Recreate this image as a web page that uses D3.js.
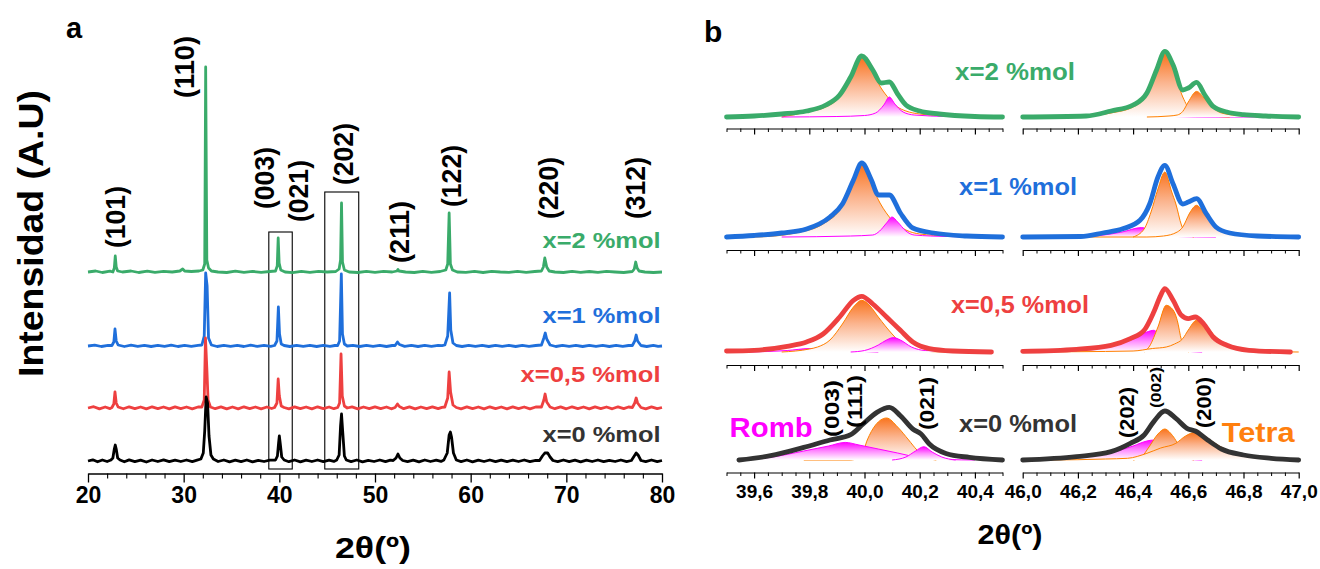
<!DOCTYPE html>
<html><head><meta charset="utf-8">
<script src="https://cdn.jsdelivr.net/npm/d3@7"></script>
<style>
body{margin:0;background:#fff}
svg text{font-family:"Liberation Sans",Arial,sans-serif;font-weight:bold}
</style>
</head><body>
<svg id="c" width="1320" height="569"></svg>
<script>
// ================= DATA =================
// Panel a: XRD patterns [2θ, intensity above own baseline]
const seriesNames = ["x=0 %mol","x=0,5 %mol","x=1 %mol","x=2 %mol"];
const seriesColors = ["#000000","#ee4040","#1f6fdb","#3aab6a"];
const labelColors = ["#333333","#ee4040","#1f6fdb","#3aab6a"];
const seriesOffsets = [0, 53, 115, 189];

const traceBlack = [[20.0,0],[20.5,1.2],[21.0,-0.8],[21.5,1],[22.0,-0.5],[22.4,1],[22.6,3],[22.75,12],[22.85,16],[22.95,12],[23.1,3],[23.35,1],[23.8,-0.8],[24.3,1.1],[24.9,-0.6],[25.5,0.9],[26.1,-1],[26.7,1],[27.3,-0.5],[27.9,1.2],[28.5,-0.7],[29.1,0.8],[29.7,-0.5],[30.3,1],[30.9,-0.6],[31.4,0.9],[31.8,2],[32.05,8],[32.2,30],[32.35,64],[32.5,58],[32.65,25],[32.85,6],[33.1,2],[33.6,-0.5],[34.2,1],[34.8,-0.8],[35.4,0.8],[36.0,-0.6],[36.6,1],[37.2,-0.9],[37.8,0.7],[38.4,-0.5],[39.0,0.9],[39.6,1],[39.8,5],[39.92,18],[40.0,25],[40.1,17],[40.25,4],[40.5,1],[41.0,-0.7],[41.6,1],[42.2,-0.8],[42.8,0.9],[43.4,-0.5],[44.0,1],[44.6,-0.7],[45.2,0.8],[45.7,-0.4],[46.0,1],[46.25,6],[46.4,35],[46.5,47],[46.62,30],[46.8,5],[47.0,1],[47.5,-0.6],[48.1,1],[48.7,-0.8],[49.3,0.7],[49.9,-0.5],[50.5,1],[51.1,-0.7],[51.6,0.8],[51.9,0.5],[52.2,3],[52.4,7],[52.6,3],[52.9,0.5],[53.4,-0.6],[54.0,0.9],[54.6,-0.8],[55.2,1],[55.8,-0.5],[56.4,0.8],[56.9,-0.4],[57.2,1],[57.55,8],[57.75,26],[57.88,29],[58.0,24],[58.2,8],[58.5,1],[59.0,-0.6],[59.6,1],[60.2,-0.8],[60.8,0.8],[61.4,-0.5],[62.0,1],[62.6,-0.7],[63.2,0.9],[63.8,-0.6],[64.4,0.8],[65.0,-0.5],[65.6,1],[66.2,-0.7],[66.8,0.6],[67.2,0.5],[67.5,5],[67.75,8],[68.05,8],[68.3,4],[68.6,0.5],[69.1,-0.7],[69.7,1],[70.3,-0.6],[70.9,0.8],[71.5,-0.8],[72.1,0.9],[72.7,-0.5],[73.3,1],[73.9,-0.7],[74.5,0.7],[75.1,-0.5],[75.7,1],[76.3,-0.6],[76.8,0.5],[77.1,5],[77.3,8],[77.5,6],[77.8,0.5],[78.3,-0.7],[78.9,1],[79.5,-0.6],[80.0,0.5]];

const traceRed = [[20.0,0],[20.6,1.3],[21.2,-0.9],[21.8,1],[22.3,-0.6],[22.5,0.5],[22.7,4],[22.82,16],[22.95,5],[23.15,1],[23.7,-0.8],[24.3,1.2],[24.9,-0.7],[25.5,1],[26.1,-0.9],[26.7,1.2],[27.3,-0.6],[27.9,1],[28.5,-0.9],[29.1,1.1],[29.7,-0.6],[30.3,1],[30.9,-0.8],[31.5,1],[31.9,1],[32.15,8],[32.28,70],[32.42,40],[32.55,8],[32.8,1],[33.3,-0.7],[33.9,1.1],[34.5,-0.8],[35.1,1],[35.7,-0.9],[36.3,1.2],[36.9,-0.6],[37.5,1],[38.1,-0.8],[38.7,1],[39.2,-0.5],[39.5,0.5],[39.75,5],[39.88,29],[40.0,12],[40.2,2],[40.5,0.5],[41.0,-0.8],[41.6,1.1],[42.2,-0.7],[42.8,1],[43.4,-0.9],[44.0,1.2],[44.6,-0.6],[45.2,1],[45.7,-0.7],[46.1,0.5],[46.3,5],[46.45,54],[46.58,12],[46.8,2],[47.1,0],[47.6,1.1],[48.2,-0.8],[48.8,1],[49.4,-0.7],[50.0,1.2],[50.6,-0.6],[51.2,1],[51.7,-0.8],[52.1,0.5],[52.35,4],[52.55,1.5],[53.0,-0.7],[53.6,1.1],[54.2,-0.9],[54.8,1],[55.4,-0.6],[56.0,1.2],[56.6,-0.7],[57.0,0.6],[57.3,1],[57.6,10],[57.75,36],[57.9,16],[58.15,3],[58.5,0.5],[59.0,-0.8],[59.6,1.1],[60.2,-0.7],[60.8,1],[61.4,-0.9],[62.0,1.2],[62.6,-0.6],[63.2,1],[63.8,-0.8],[64.4,1.1],[65.0,-0.6],[65.6,1],[66.2,-0.9],[66.8,1],[67.4,1],[67.65,8],[67.78,14],[67.95,6],[68.3,1],[68.8,-0.7],[69.4,1.1],[70.0,-0.8],[70.6,1.2],[71.2,-0.6],[71.8,1],[72.4,-0.9],[73.0,1.1],[73.6,-0.6],[74.2,1],[74.8,-0.8],[75.4,1.2],[76.0,-0.6],[76.5,1],[76.9,0.5],[77.15,5],[77.3,10],[77.45,5],[77.8,0.5],[78.3,-0.8],[78.9,1.1],[79.5,-0.7],[80.0,0.5]];

const traceBlue = [[20.0,0],[20.7,0.8],[21.4,-0.5],[22.1,0.7],[22.5,0.5],[22.7,4],[22.82,17],[22.95,5],[23.15,1],[23.8,-0.5],[24.5,0.8],[25.2,-0.4],[25.9,0.7],[26.6,-0.5],[27.3,0.6],[28.0,-0.4],[28.7,0.8],[29.4,-0.5],[30.1,0.6],[30.8,-0.3],[31.5,0.7],[31.9,1],[32.15,10],[32.3,73],[32.45,60],[32.6,8],[32.9,1],[33.5,-0.5],[34.2,0.7],[34.9,-0.4],[35.6,0.6],[36.3,-0.5],[37.0,0.8],[37.7,-0.4],[38.4,0.6],[39.1,-0.3],[39.5,0.5],[39.75,5],[39.9,39],[40.02,12],[40.2,2],[40.5,0.5],[41.1,-0.5],[41.8,0.7],[42.5,-0.4],[43.2,0.6],[43.9,-0.5],[44.6,0.7],[45.3,-0.3],[45.8,0.5],[46.1,0.5],[46.3,5],[46.48,72],[46.6,12],[46.8,2],[47.1,0],[47.7,0.7],[48.4,-0.5],[49.1,0.6],[49.8,-0.4],[50.5,0.7],[51.2,-0.5],[51.8,0.5],[52.1,0.5],[52.35,4],[52.55,1.5],[53.1,-0.4],[53.8,0.7],[54.5,-0.5],[55.2,0.6],[55.9,-0.4],[56.6,0.7],[57.0,0.3],[57.3,1],[57.6,10],[57.8,53],[57.92,16],[58.15,3],[58.5,0.5],[59.1,-0.5],[59.8,0.7],[60.5,-0.4],[61.2,0.6],[61.9,-0.5],[62.6,0.7],[63.3,-0.3],[64.0,0.6],[64.7,-0.5],[65.4,0.7],[66.1,-0.4],[66.8,0.5],[67.4,1],[67.65,8],[67.8,13],[67.95,7],[68.3,1],[68.9,-0.5],[69.6,0.7],[70.3,-0.4],[71.0,0.6],[71.7,-0.5],[72.4,0.7],[73.1,-0.3],[73.8,0.6],[74.5,-0.5],[75.2,0.7],[75.9,-0.4],[76.5,0.5],[76.9,0.5],[77.15,5],[77.3,11],[77.45,5],[77.8,0.5],[78.4,-0.5],[79.1,0.7],[79.6,-0.4],[80.0,0]];

const traceGreen = [[20.0,0],[20.8,1],[21.5,-0.5],[22.3,0.8],[22.6,0],[22.75,4],[22.85,16],[22.95,5],[23.1,1],[23.6,0],[24.5,1],[25.3,-0.5],[26.2,0.8],[27.0,-0.3],[27.9,0.6],[28.8,0],[29.6,1],[29.9,3],[30.1,1],[30.8,0.5],[31.6,1],[32.0,2],[32.2,8],[32.3,205],[32.42,12],[32.6,4],[32.9,1],[33.6,0],[34.5,-0.5],[35.4,0.8],[36.3,-0.4],[37.2,0.6],[38.1,-0.3],[39.0,0.5],[39.6,1],[39.78,6],[39.88,34],[39.98,9],[40.15,2],[40.6,0],[41.4,-0.6],[42.3,0.7],[43.2,-0.4],[44.1,0.6],[45.0,0],[45.9,0.5],[46.25,3],[46.4,12],[46.5,69],[46.6,10],[46.8,2],[47.3,0],[48.2,-0.5],[49.1,0.6],[50.0,-0.3],[50.9,0.7],[51.8,0],[52.3,1],[52.4,2.5],[52.5,1],[53.2,0],[54.1,-0.5],[55.0,0.6],[55.9,-0.3],[56.8,0.5],[57.4,2],[57.6,8],[57.75,59],[57.88,8],[58.1,2],[58.6,0],[59.5,-0.4],[60.4,0.7],[61.3,-0.5],[62.2,0.6],[63.1,0],[64.0,-0.4],[64.9,0.6],[65.8,-0.3],[66.7,0.5],[67.4,1],[67.6,5],[67.75,14],[67.95,5],[68.2,1],[68.8,0],[69.7,-0.5],[70.6,0.6],[71.5,-0.4],[72.4,0.5],[73.3,-0.3],[74.2,0.6],[75.1,0],[76.0,-0.5],[76.9,0.5],[77.1,3],[77.25,10],[77.4,4],[77.6,1],[78.2,0],[79.1,-0.5],[80.0,0]];

// Panel a: Miller index labels (2θ position, label height in intensity units)
const peakLabels = ["(101)","(110)","(003)","(021)","(202)","(211)","(122)","(220)","(312)"];
const peakLabelX = [22.93,30.06,38.44,42.0,46.72,52.58,58.03,68.19,77.2];
const peakLabelY = [244,394,283,270,307,229,285,273,273];
// Panel a: zoom boxes [2θ from, 2θ to, top intensity]
const boxFrom = [38.9,44.75];
const boxTo = [41.35,48.3];
const boxTop = [229,269];
const boxBottom = -8;
// Panel a axis ticks
const ticksA = [20,30,40,50,60,70,80];
const minorA = [22,24,26,28,32,34,36,38,42,44,46,48,52,54,56,58,62,64,66,68,72,74,76,78];

// Panel b: fitted profiles [2θ, intensity above baseline]
// green (x=2)
const gL_total = [[39.50,0],[39.60,1],[39.70,3],[39.79,6],[39.86,12],[39.91,22],[39.95,40],[39.99,61],[40.03,47],[40.06,34],[40.09,35],[40.12,23],[40.15,12],[40.20,6],[40.27,3],[40.40,0.5],[40.50,0]];
const gL_or = [[39.70,0],[39.75,2.5],[39.79,5],[39.86,10],[39.91,20],[39.95,38],[39.99,59],[40.03,44],[40.06,29],[40.09,18],[40.12,10],[40.15,6],[40.20,3],[40.30,1],[40.40,0]];
const gL_pk = [[39.70,0],[39.90,0.5],[40.00,1.5],[40.04,4],[40.07,12],[40.09,20],[40.11,13],[40.14,5],[40.18,2],[40.30,0.5],[40.45,0]];
const gR_total = [[46.00,0],[46.23,1],[46.32,6],[46.40,12],[46.45,24],[46.485,47],[46.515,65.6],[46.545,52],[46.58,27],[46.60,29],[46.63,34.6],[46.66,22],[46.69,10.6],[46.74,5],[46.80,2.3],[46.88,1],[47.00,0]];
const gR_pk = [[46.00,0],[46.15,0.3],[46.28,1.5],[46.38,3],[46.45,2],[46.55,0.5],[46.70,0],[47.00,0]];
const gR_or1 = [[46.20,0],[46.32,4],[46.40,10],[46.45,22],[46.485,45],[46.515,63],[46.545,48],[46.58,20],[46.61,6],[46.65,2],[46.75,0]];
const gR_or2 = [[46.45,0],[46.53,1],[46.56,2],[46.58,5.6],[46.60,15],[46.63,25.6],[46.66,18],[46.69,9],[46.72,4],[46.80,1],[46.90,0]];
// blue (x=1)
const bL_total = [[39.50,0],[39.60,1.5],[39.70,4],[39.79,8],[39.875,20],[39.92,33],[39.96,57],[39.99,74],[40.025,57],[40.05,42],[40.09,42],[40.13,24],[40.175,9],[40.25,4],[40.37,1],[40.50,0]];
const bL_or = [[39.60,0],[39.65,0.5],[39.75,4],[39.85,13],[39.92,31],[39.96,55],[39.99,72],[40.02,56],[40.045,40],[40.09,20],[40.15,7],[40.20,3],[40.30,1],[40.40,0]];
const bL_pk = [[39.70,0],[39.95,1],[40.03,2],[40.055,6],[40.08,14],[40.10,20],[40.12,15],[40.15,6],[40.18,2],[40.30,0.5],[40.45,0]];
const bR_total = [[46.00,0],[46.21,0.5],[46.29,4],[46.365,8.4],[46.425,16.7],[46.46,33],[46.49,60],[46.515,71.7],[46.545,53],[46.58,33],[46.60,35],[46.63,38.3],[46.665,23.3],[46.70,10],[46.75,4],[46.85,1],[47.00,0]];
const bR_pk = [[46.20,0],[46.28,1.5],[46.36,5],[46.43,9.4],[46.47,6],[46.51,2],[46.56,0.5],[46.70,0]];
const bR_or1 = [[46.40,0],[46.44,8],[46.465,25],[46.49,48],[46.515,65],[46.54,45],[46.555,33],[46.575,12],[46.59,4],[46.62,0]];
const bR_or2 = [[46.00,0],[46.45,0],[46.51,1],[46.56,5],[46.58,10],[46.605,24],[46.63,31.7],[46.66,22],[46.69,13],[46.74,5],[46.80,2],[46.90,0],[47.00,0]];
// red (x=0,5)
const rL_total = [[39.50,1],[39.60,1.7],[39.72,5.7],[39.79,10],[39.85,18],[39.91,35],[39.96,51.7],[39.99,55.7],[40.03,48],[40.08,35],[40.13,21.7],[40.175,10],[40.235,3.4],[40.32,1],[40.46,0]];
const rL_or = [[39.70,0],[39.80,3],[39.83,5],[39.875,12],[39.92,28],[39.96,45],[39.99,51.7],[40.02,46],[40.05,35],[40.10,18],[40.15,5],[40.20,1],[40.30,0]];
const rL_pk1 = [[39.55,0],[39.65,0.5],[39.72,1.5],[39.80,3.4],[39.88,3],[39.95,1.5],[40.00,0.5],[40.05,0]];
const rL_pk2 = [[39.95,0],[40.00,1.5],[40.05,7],[40.08,12],[40.105,14.4],[40.13,12],[40.17,5],[40.22,1.5],[40.35,0.5],[40.45,0]];
const rR_total = [[46.00,0.7],[46.195,2.7],[46.32,6.7],[46.39,13.4],[46.44,21.7],[46.475,40],[46.50,56.7],[46.515,63.4],[46.545,51.7],[46.575,36.7],[46.60,33.4],[46.625,35],[46.655,28.4],[46.69,15],[46.74,6.7],[46.82,1.7],[46.97,0]];
const rR_pk = [[46.05,0],[46.15,2],[46.25,4],[46.33,7],[46.40,13],[46.45,20],[46.475,21.7],[46.50,15],[46.53,6],[46.57,1.5],[46.65,0]];
const rR_or1 = [[46.44,0],[46.46,6],[46.49,25],[46.52,46.7],[46.545,42],[46.56,31.7],[46.575,12],[46.585,5],[46.60,0]];
const rR_or2 = [[46.00,0],[46.20,0.3],[46.40,1],[46.47,3.5],[46.52,5],[46.55,8],[46.58,13.4],[46.60,22],[46.63,31.7],[46.66,28],[46.69,18],[46.74,6.7],[46.80,2],[46.90,0.5],[47.00,0]];
// black (x=0)
const kL_total = [[39.545,0],[39.66,4.3],[39.78,12.6],[39.875,20],[39.95,25.3],[39.995,36],[40.045,47.6],[40.09,52.6],[40.13,44.3],[40.175,31],[40.205,26],[40.235,16],[40.295,6.6],[40.38,2.6],[40.50,0]];
const kL_or = [[39.78,0],[39.95,0],[39.99,5],[40.01,20],[40.04,35],[40.08,42],[40.12,33],[40.16,20],[40.19,10],[40.22,3],[40.26,0]];
const kL_pk1 = [[39.55,0],[39.66,2.7],[39.78,9],[39.87,14],[39.93,17.6],[39.98,15],[40.05,11],[40.12,7],[40.16,4.5],[40.22,2],[40.30,0.5],[40.40,0]];
const kL_pk2 = [[40.10,0],[40.15,3],[40.185,9],[40.215,13.3],[40.245,8],[40.28,3],[40.33,0]];
const kR_total = [[46.00,0],[46.195,3.4],[46.32,8.4],[46.39,16.7],[46.44,25],[46.475,38.4],[46.515,49],[46.555,41.7],[46.595,31.7],[46.625,29],[46.67,20],[46.72,11],[46.80,5],[46.90,1.7],[47.00,0]];
const kR_pk = [[46.05,0],[46.15,2],[46.25,4.5],[46.33,8],[46.40,14],[46.45,19],[46.475,20],[46.50,14],[46.53,6],[46.57,1.5],[46.65,0]];
const kR_or1 = [[46.40,0],[46.43,3],[46.46,14],[46.49,26],[46.515,31],[46.535,27],[46.55,21.7],[46.57,12],[46.59,4],[46.62,0]];
const kR_or2 = [[46.00,0],[46.10,0],[46.30,1],[46.38,1.7],[46.45,6.7],[46.50,12],[46.555,16.7],[46.59,24],[46.625,27.7],[46.66,24],[46.68,20],[46.74,10],[46.82,3.4],[46.90,1],[47.00,0]];

// Panel b texts
const bPeakLabels = ["(003)","(111)","(021)","(202)","(002)","(200)"];
const ticksBL = [39.6,39.8,40.0,40.2,40.4];
const ticksBR = [46.0,46.2,46.4,46.6,46.8,47.0];

// ================= DRAWING =================
const svg = d3.select("#c");
const FONT = '"Liberation Sans", Arial, sans-serif';
const defs = svg.append("defs");
const gOr = defs.append("linearGradient").attr("id","gOr").attr("x1",0).attr("y1",0).attr("x2",0).attr("y2",1);
gOr.append("stop").attr("offset","0%").attr("stop-color","#f9741f");
gOr.append("stop").attr("offset","45%").attr("stop-color","#fbb48e");
gOr.append("stop").attr("offset","100%").attr("stop-color","#ffffff");
const gPk = defs.append("linearGradient").attr("id","gPk").attr("x1",0).attr("y1",0).attr("x2",0).attr("y2",1);
gPk.append("stop").attr("offset","0%").attr("stop-color","#ff00ff");
gPk.append("stop").attr("offset","50%").attr("stop-color","#ff8cff");
gPk.append("stop").attr("offset","100%").attr("stop-color","#ffffff");

function txt(g, s, x, y, opt) {
  const t = g.append("text").attr("x", x).attr("y", y).text(s)
    .attr("font-family", FONT).attr("font-weight","bold")
    .attr("font-size", opt.size).attr("fill", opt.fill || "#000")
    .attr("text-anchor", opt.anchor || "start");
  if (opt.len) t.attr("textLength", opt.len).attr("lengthAdjust","spacingAndGlyphs");
  if (opt.rot) t.attr("transform", `rotate(-90,${x},${y})`).attr("dy","0.35em");
  return t;
}

// ---------- Panel a ----------
const xA = d3.scaleLinear().domain([20,80]).range([88,662]);
const yA = d3.scaleLinear().domain([0,400]).range([461,61]);
const gA = svg.append("g");

// boxes
boxFrom.forEach((b,i) => {
  gA.append("rect").attr("x", xA(b)).attr("y", yA(boxTop[i]))
    .attr("width", xA(boxTo[i]) - xA(b)).attr("height", yA(boxBottom) - yA(boxTop[i]))
    .attr("fill","none").attr("stroke","#000").attr("stroke-width",1.1);
});

const traces = [traceBlack, traceRed, traceBlue, traceGreen];
const drawOrder = [2, 3, 1, 0];
drawOrder.forEach(i => {
  const off = seriesOffsets[i];
  const line = d3.line().x(d => xA(d[0])).y(d => yA(d[1] + off));
  gA.append("path").datum(traces[i]).attr("d", line)
    .attr("fill","none").attr("stroke", seriesColors[i])
    .attr("stroke-width", 2.8).attr("stroke-linejoin","round");
});

// axis
const axA = gA.append("g").attr("transform","translate(0,473.5)")
  .call(d3.axisBottom(xA).tickValues(ticksA).tickSize(9).tickSizeOuter(0).tickPadding(4));
axA.select(".domain").attr("stroke-width",1.3);
axA.selectAll(".tick line").attr("stroke-width",1.3);
axA.selectAll("text").attr("font-size",23).attr("font-family",FONT).attr("font-weight","bold").attr("fill","#000");
const axAm = gA.append("g").attr("transform","translate(0,473.5)")
  .call(d3.axisBottom(xA).tickValues(minorA).tickSize(5).tickFormat(""));
axAm.select(".domain").remove();
axAm.selectAll(".tick line").attr("stroke-width",1.1);

// peak labels
peakLabels.forEach((s,i) => txt(gA, s, xA(peakLabelX[i]), yA(peakLabelY[i]), {size:27, anchor:"middle", rot:true, len:62}));

// series labels
const sLabelY = [442, 381.5, 322.7, 248];
const sLabelLen = [118, 140, 118, 118];
seriesNames.forEach((s,i) => txt(gA, s, 660.5, sLabelY[i], {size:22, anchor:"end", fill:labelColors[i], len:sLabelLen[i]}));

txt(gA, "a", 66, 38, {size:29});
txt(gA, "2θ(º)", 373, 558, {size:30, anchor:"middle", len:76});
txt(gA, "Intensidad (A.U)", 31, 233.5, {size:35, anchor:"middle", rot:true, len:287});

// ---------- Panel b ----------
const gB = svg.append("g");
const colL = d3.scaleLinear().domain([39.5,40.5]).range([726.5,1002.5]);
const colR = d3.scaleLinear().domain([46,47]).range([1022.7,1298.7]);
const rowBase = [117,237,352,460];
const rowAxis = [128.5,250,365,472.5];
const bColors = ["#3aab6a","#1f6fdb","#ee4040","#333333"];
const subplots = [
  {row:0, x:colL, total:gL_total, comps:[["o",gL_or],["p",gL_pk]]},
  {row:0, x:colR, total:gR_total, comps:[["p",gR_pk],["o",gR_or1],["o",gR_or2]]},
  {row:1, x:colL, total:bL_total, comps:[["o",bL_or],["p",bL_pk]]},
  {row:1, x:colR, total:bR_total, comps:[["p",bR_pk],["o",bR_or1],["o",bR_or2]]},
  {row:2, x:colL, total:rL_total, comps:[["p",rL_pk1],["o",rL_or],["p",rL_pk2]]},
  {row:2, x:colR, total:rR_total, comps:[["p",rR_pk],["o",rR_or1],["o",rR_or2]]},
  {row:3, x:colL, total:kL_total, comps:[["o",kL_or],["p",kL_pk1],["p",kL_pk2]]},
  {row:3, x:colR, total:kR_total, comps:[["p",kR_pk],["o",kR_or1],["o",kR_or2]]}
];
const fmtC = d => d3.format(".1f")(d).replace(".", ",");

subplots.forEach(sp => {
  const base = rowBase[sp.row];
  const y = d3.scaleLinear().domain([0,100]).range([base, base - 100]);
  const x = sp.x;
  const area = d3.area().x(d => x(d[0])).y0(y(0)).y1(d => y(d[1])).curve(d3.curveMonotoneX);
  const line = d3.line().x(d => x(d[0])).y(d => y(d[1])).curve(d3.curveMonotoneX);
  sp.comps.forEach(([k, data]) => {
    gB.append("path").datum(data).attr("d", area).attr("fill", k === "o" ? "url(#gOr)" : "url(#gPk)");
    gB.append("path").datum(data).attr("d", line).attr("fill","none")
      .attr("stroke", k === "o" ? "#ff8000" : "#ff00ff").attr("stroke-width", 1);
  });
  gB.append("path").datum(sp.total).attr("d", line).attr("fill","none")
    .attr("stroke", bColors[sp.row]).attr("stroke-width", 4.8)
    .attr("stroke-linejoin","round").attr("stroke-linecap","round");

  // axes
  const isL = x === colL;
  const majors = isL ? ticksBL : ticksBR;
  const minors = d3.range(0, 21).map(i => +(x.domain()[0] + i * 0.05).toFixed(2)).filter(v => !majors.some(m => Math.abs(m - v) < 1e-6));
  const ax = gB.append("g").attr("transform", `translate(0,${rowAxis[sp.row]})`)
    .call(d3.axisBottom(x).tickValues(majors).tickSize(6).tickSizeOuter(0).tickPadding(6)
      .tickFormat(sp.row === 3 ? fmtC : ""));
  ax.select(".domain").attr("stroke-width",1.2);
  ax.selectAll(".tick line").attr("stroke-width",1.2);
  ax.selectAll("text").attr("font-size",19).attr("font-family",FONT).attr("font-weight","bold").attr("fill","#000");
  const axm = gB.append("g").attr("transform", `translate(0,${rowAxis[sp.row]})`)
    .call(d3.axisBottom(x).tickValues(minors).tickSize(3.5).tickFormat(""));
  axm.select(".domain").remove();
  axm.selectAll(".tick line").attr("stroke-width",1);
});

// panel b labels
txt(gB, "b", 704, 41.7, {size:30});
txt(gB, "x=2 %mol", 955, 80, {size:23, fill:bColors[0], len:120});
txt(gB, "x=1 %mol", 959, 195, {size:23, fill:bColors[1], len:118});
txt(gB, "x=0,5 %mol", 951, 313, {size:23, fill:bColors[2], len:138});
txt(gB, "x=0 %mol", 959, 431.7, {size:23, fill:bColors[3], len:118});
txt(gB, "Romb", 729.6, 436.7, {size:28, fill:"#ff00ff", len:83});
txt(gB, "Tetra", 1221.7, 441.7, {size:28, fill:"#ff7f0e", len:73});
// peak indices (placed in data coordinates of the black row)
const yK = d3.scaleLinear().domain([0,100]).range([460,360]);
txt(gB, bPeakLabels[0], colL(39.88), yK(51.5), {size:21, anchor:"middle", rot:true, len:57});
txt(gB, bPeakLabels[1], colL(39.965), yK(58.5), {size:21, anchor:"middle", rot:true, len:53});
txt(gB, bPeakLabels[2], colL(40.225), yK(56.5), {size:21, anchor:"middle", rot:true, len:53});
txt(gB, bPeakLabels[3], colR(46.375), yK(47.5), {size:21, anchor:"middle", rot:true, len:51});
txt(gB, bPeakLabels[4], colR(46.485), yK(72.5), {size:14, anchor:"middle", rot:true, len:41});
txt(gB, bPeakLabels[5], colR(46.655), yK(57.5), {size:21, anchor:"middle", rot:true, len:51});
txt(gB, "2θ(º)", 1010, 544, {size:27, anchor:"middle", len:65});
</script>
</body></html>
